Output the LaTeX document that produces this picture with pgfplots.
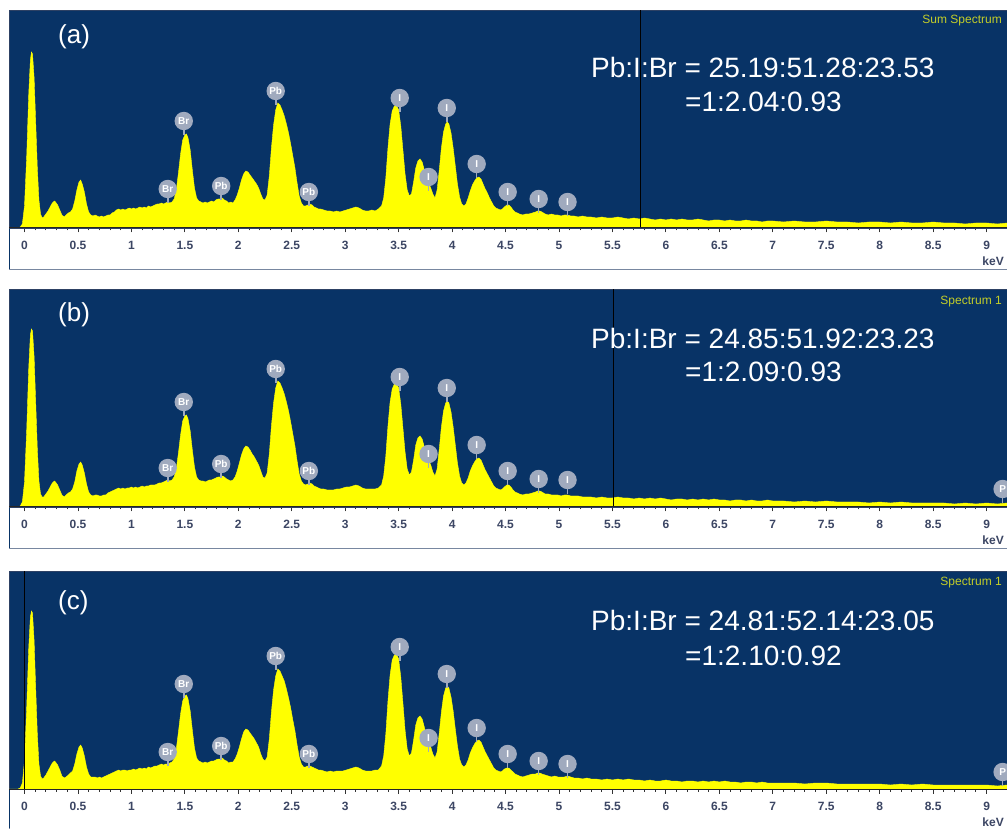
\documentclass[border=0pt]{standalone}
\usepackage{fontspec}
\setmainfont{Liberation Sans}
\usepackage{pgfplots}
\usepackage{pgfplotstable}
\pgfplotsset{compat=1.18}
\definecolor{edsblue}{RGB}{8,51,102}
\definecolor{edsedge}{RGB}{45,65,100}
\definecolor{specyellow}{RGB}{255,255,0}
\definecolor{taggray}{RGB}{160,170,190}
\definecolor{ticklab}{RGB}{60,70,100}
\definecolor{speclab}{RGB}{196,206,40}
\definecolor{stripedge}{RGB}{120,135,160}

\pgfdeclareplotmark{edstag}{%
  \pgfpathmoveto{\pgfpointorigin}%
  \pgfpathlineto{\pgfpoint{0pt}{6pt}}%
  \pgfsetlinewidth{1.6pt}%
  \pgfusepathqstroke
  \pgfpathcircle{\pgfpoint{0pt}{14pt}}{9.2pt}%
  \pgfusepathqfill
}

\pgfplotstableread{
x a b c
-0.145 0 0 0
-0.06 0 0 0
-0.04 1 1 1
-0.02 4 5 6
0.00 22 25 28
0.02 70 75 80
0.04 135 140 142
0.055 168 172 172
0.065 176 178 178
0.075 174 176 176
0.09 150 150 148
0.105 105 104 100
0.12 60 58 55
0.135 28 26 25
0.15 14 13 13
0.165 10 10 10
0.18 11 10 11
0.20 14 13 14
0.22 17 16 18
0.24 21 20 22
0.26 25 24 26
0.28 27 26 28
0.29 26 25 27
0.31 23 22 24
0.33 18 17 19
0.35 13 12 13
0.37 11 10 11
0.39 13 12 12
0.41 15 14 14
0.43 16 15 16
0.45 19 18 18
0.47 27 25 25
0.49 38 36 35
0.51 46 43 42
0.525 48 45 44
0.54 44 42 41
0.56 36 34 33
0.58 24 23 22
0.60 16 15 15
0.62 13 12 12
0.64 12 11 12
0.66 13 12 12
0.68 12 12 11
0.70 11 11 12
0.72 12 11 11
0.74 11 12 12
0.76 12 12 13
0.78 13 14 14
0.80 13 15 15
0.82 15 16 16
0.84 16 17 17
0.86 18 18 18
0.88 19 19 19
0.90 18 18 18
0.92 19 19 19
0.94 18 18 19
0.96 19 19 18
0.98 20 19 19
1.00 19 20 19
1.02 20 19 20
1.04 19 20 19
1.06 20 19 20
1.08 21 20 21
1.10 20 21 20
1.12 21 20 21
1.14 20 21 20
1.16 22 21 22
1.18 21 22 21
1.20 22 22 22
1.22 23 22 23
1.24 24 23 23
1.26 24 24 24
1.28 25 24 25
1.30 24 25 24
1.32 25 26 25
1.34 26 27 25
1.36 25 26 26
1.38 26 27 27
1.40 29 30 30
1.42 38 38 40
1.44 55 54 57
1.46 74 72 75
1.48 88 86 88
1.50 93 91 93
1.515 94 92 94
1.53 90 88 90
1.55 78 76 78
1.57 58 57 59
1.59 40 40 41
1.61 30 30 31
1.63 27 27 28
1.65 26 26 27
1.67 25 26 26
1.69 26 25 27
1.71 25 26 26
1.73 26 27 27
1.75 27 27 28
1.77 26 28 28
1.79 28 29 29
1.81 29 30 30
1.83 29 30 30
1.85 30 31 31
1.87 28 30 29
1.89 27 28 28
1.91 25 27 26
1.93 26 26 27
1.95 25 27 27
1.97 28 30 30
1.99 33 36 35
2.01 40 44 42
2.03 48 52 50
2.05 54 58 57
2.07 57 61 60
2.09 56 60 59
2.11 53 57 56
2.13 50 53 53
2.15 47 50 50
2.17 44 46 46
2.19 40 42 42
2.21 34 36 35
2.23 29 30 30
2.25 28 29 28
2.27 33 34 32
2.29 52 53 50
2.31 80 81 77
2.33 103 104 99
2.35 118 119 113
2.37 125 126 120
2.39 123 124 118
2.41 118 119 113
2.43 112 113 108
2.45 104 105 100
2.47 95 96 91
2.49 84 85 81
2.51 72 73 69
2.53 60 61 58
2.55 45 46 44
2.57 32 33 32
2.59 25 26 25
2.61 22 23 22
2.63 22 22 22
2.65 23 23 23
2.67 24 24 23
2.69 23 23 22
2.71 21 21 21
2.73 20 20 20
2.75 19 19 19
2.77 19 18 19
2.80 18 18 18
2.83 17 17 17
2.86 17 17 18
2.89 16 17 17
2.92 17 18 18
2.95 16 18 18
2.98 17 19 18
3.01 18 20 19
3.04 19 20 20
3.07 20 21 21
3.10 21 22 22
3.13 20 21 21
3.16 18 19 19
3.19 17 18 18
3.22 17 18 18
3.25 18 18 18
3.28 17 18 19
3.31 19 19 19
3.34 22 22 23
3.36 30 31 33
3.38 50 51 55
3.40 80 81 88
3.42 104 105 114
3.44 117 118 129
3.46 122 123 134
3.48 123 124 135
3.50 118 119 130
3.52 102 103 112
3.54 78 79 86
3.56 54 55 59
3.58 38 38 40
3.60 32 32 33
3.62 34 35 36
3.64 46 47 49
3.66 60 62 64
3.68 67 69 71
3.70 69 71 73
3.72 66 68 70
3.74 58 60 62
3.76 50 52 53
3.78 45 47 48
3.80 40 42 42
3.82 34 35 35
3.84 30 31 31
3.86 38 38 37
3.88 58 58 56
3.90 80 80 77
3.92 96 96 93
3.94 104 104 101
3.955 106 106 103
3.97 104 104 101
3.99 95 95 92
4.01 80 80 78
4.03 62 62 60
4.05 44 44 43
4.07 31 31 30
4.09 24 24 24
4.11 22 22 22
4.13 24 24 24
4.15 30 29 29
4.17 37 36 36
4.19 43 41 41
4.21 47 45 45
4.23 50 48 48
4.25 51 49 49
4.27 49 47 47
4.29 44 42 42
4.31 39 37 37
4.33 35 33 33
4.35 30 29 29
4.37 26 25 25
4.39 22 21 21
4.41 20 19 19
4.43 19 18 18
4.45 18 17 17
4.47 19 18 18
4.49 21 20 20
4.51 23 22 21
4.53 23 22 21
4.55 21 20 19
4.57 18 17 17
4.59 16 15 15
4.61 15 14 14
4.63 14 13 13
4.66 13 12 12
4.69 14 13 13
4.72 14 13 14
4.75 15 14 15
4.78 16 15 15
4.80 17 16 16
4.82 17 16 16
4.84 16 15 15
4.87 14 13 14
4.90 13 13 13
4.93 14 12 12
4.96 13 12 13
4.99 13 12 12
5.02 12 11 12
5.05 13 12 12
5.08 13 12 13
5.11 12 11 12
5.14 12 11 11
5.18 11 11 11
5.22 12 10 10
5.26 11 10 11
5.30 11 10 10
5.35 10 9 10
5.40 11 10 9
5.45 10 9 10
5.50 10 9 9
5.55 11 10 10
5.60 10 9 9
5.65 9 9 10
5.70 10 8 9
5.75 9 9 9
5.80 10 8 8
5.85 9 9 9
5.90 8 8 8
5.95 9 9 8
6.00 8 8 9
6.05 9 7 8
6.10 8 8 8
6.15 9 8 7
6.20 8 7 8
6.25 8 8 8
6.30 9 7 7
6.35 8 8 8
6.40 7 7 7
6.45 8 8 8
6.50 8 7 7
6.55 7 7 8
6.60 8 6 7
6.65 7 7 7
6.70 7 7 6
6.75 8 6 7
6.80 7 7 7
6.85 7 6 6
6.90 6 6 7
6.95 7 7 6
7.00 7 6 6
7.10 6 6 6
7.20 7 5 6
7.30 6 6 5
7.40 6 5 6
7.50 7 6 6
7.60 6 5 5
7.70 6 5 5
7.80 5 5 5
7.90 6 4 5
8.00 6 5 5
8.10 5 4 4
8.20 6 5 5
8.30 5 4 4
8.40 5 4 5
8.50 6 4 4
8.60 5 4 4
8.70 5 3 4
8.80 4 4 4
8.90 5 3 4
9.00 5 4 4
9.10 4 3 3
9.191 5 4 4
}\spec

\pgfplotstableread{
x y lab
1.34 25 Br
1.49 93 Br
1.84 28 Pb
2.35 123 Pb
2.66 22 Pb
3.51 116 I
3.78 37 I
3.95 106 I
4.23 50 I
4.52 22 I
4.81 15 I
5.08 12 I
}\tagA

\pgfplotstableread{
x y lab
1.34 25 Br
1.49 91 Br
1.84 29 Pb
2.35 124 Pb
2.66 22 Pb
3.51 116 I
3.78 39 I
3.95 105 I
4.23 48 I
4.52 22 I
4.81 14 I
5.08 13 I
9.15 4 P
}\tagB

\pgfplotstableread{
x y lab
1.34 23 Br
1.49 91 Br
1.84 29 Pb
2.35 119 Pb
2.66 21 Pb
3.51 128 I
3.78 37 I
3.95 101 I
4.23 47 I
4.52 21 I
4.81 14 I
5.08 11 I
9.15 3 P
}\tagC

\pgfplotsset{
  edsaxis/.style={
    scale only axis, width=998pt, height=218pt,
    anchor=south west,
    xmin=-0.145, xmax=9.191, ymin=0, ymax=218,
    axis background/.style={fill=edsblue},
    axis line style={draw=edsedge, line width=0.6pt},
    ytick=\empty,
    xtick={0,0.5,...,9},
    xticklabels={0,0.5,1,1.5,2,2.5,3,3.5,4,4.5,5,5.5,6,6.5,7,7.5,8,8.5,9},
    minor x tick num=4,
    tick align=outside, xtick pos=left,
    major tick length=4.5pt, minor tick length=2.5pt,
    tick style={black!80, line width=0.9pt},
    xticklabel style={font=\bfseries\fontsize{12}{12}\selectfont, text=ticklab, anchor=base, yshift=-17pt},
    clip=true,
  },
  tagstyle/.style={
    only marks, mark=edstag, color=taggray,
    mark options={fill=taggray, draw=taggray},
    point meta=explicit symbolic, nodes near coords,
    every node near coord/.append style={anchor=center, yshift=14pt, text=white,
      font=\bfseries\fontsize{10}{10}\selectfont, inner sep=0pt},
  },
  specstyle/.style={fill=specyellow, draw=specyellow, line width=0.4pt},
}

\begin{document}
\begin{tikzpicture}
\path[use as bounding box] (0pt,0pt) rectangle (1007pt,828pt);
\clip (0pt,0pt) rectangle (1007pt,828pt);
\fill[white] (0pt,0pt) rectangle (1007pt,828pt);
% white strips
\draw[stripedge, fill=white, line width=0.8pt] (9pt,559pt) rectangle (1012pt,600pt);
\draw[stripedge, fill=white, line width=0.8pt] (9pt,280pt) rectangle (1012pt,321pt);
\draw[stripedge, fill=white, line width=0.8pt] (9pt,-5pt) rectangle (1012pt,39pt);
\draw[edsblue, line width=1pt] (9.5pt,559pt) -- (9.5pt,600pt);
\draw[edsblue, line width=1pt] (9.5pt,280pt) -- (9.5pt,321pt);
\draw[edsblue, line width=1pt] (9.5pt,0pt) -- (9.5pt,39pt);

% ---------- (a)
\begin{axis}[edsaxis, at={(9pt,600pt)}]
\addplot[specstyle] table[x=x, y=a] {\spec} \closedcycle;
\addplot[black, line width=1pt] coordinates {(5.76,0) (5.76,218)};
\addplot[tagstyle] table[x=x, y=y, meta=lab] {\tagA};
\end{axis}
% ---------- (b)
\begin{axis}[edsaxis, at={(9pt,321pt)}]
\addplot[specstyle] table[x=x, y=b] {\spec} \closedcycle;
\addplot[black, line width=1pt] coordinates {(5.51,0) (5.51,218)};
\addplot[tagstyle] table[x=x, y=y, meta=lab] {\tagB};
\end{axis}
% ---------- (c)
\begin{axis}[edsaxis, at={(9pt,39pt)}]
\addplot[specstyle] table[x=x, y=c] {\spec} \closedcycle;
\addplot[black, line width=1pt] coordinates {(0.0,0) (0.0,218)};
\addplot[tagstyle] table[x=x, y=y, meta=lab] {\tagC};
\end{axis}

% axis base lines
\draw[black!85, line width=1pt] (9pt,600pt) -- (1007pt,600pt);
\draw[black!85, line width=1pt] (9pt,321pt) -- (1007pt,321pt);
\draw[black!85, line width=1pt] (9pt,39pt) -- (1007pt,39pt);

% keV labels
\node[anchor=base east, inner sep=0pt, text=ticklab, font=\bfseries\fontsize{12}{12}\selectfont] at (1004pt,562pt) {keV};
\node[anchor=base east, inner sep=0pt, text=ticklab, font=\bfseries\fontsize{12}{12}\selectfont] at (1004pt,283pt) {keV};
\node[anchor=base east, inner sep=0pt, text=ticklab, font=\bfseries\fontsize{12}{12}\selectfont] at (1004pt,2pt) {keV};

% panel letters
\node[anchor=base west, inner sep=0pt, text=white, font=\fontsize{26}{26}\selectfont] at (58pt,784pt) {(a)};
\node[anchor=base west, inner sep=0pt, text=white, font=\fontsize{26}{26}\selectfont] at (58pt,506pt) {(b)};
\node[anchor=base west, inner sep=0pt, text=white, font=\fontsize{26}{26}\selectfont] at (58pt,218pt) {(c)};

% spectrum names
\node[anchor=base east, inner sep=0pt, text=speclab, font=\fontsize{12}{12}\selectfont] at (1002pt,804pt) {Sum Spectrum};
\node[anchor=base east, inner sep=0pt, text=speclab, font=\fontsize{12}{12}\selectfont] at (1002pt,523pt) {Spectrum 1};
\node[anchor=base east, inner sep=0pt, text=speclab, font=\fontsize{12}{12}\selectfont] at (1002pt,242pt) {Spectrum 1};

% ratios
\node[anchor=base west, inner sep=0pt, text=white, font=\fontsize{28}{28}\selectfont] at (591pt,750pt) {Pb:I:Br = 25.19:51.28:23.53};
\node[anchor=base west, inner sep=0pt, text=white, font=\fontsize{28}{28}\selectfont] at (685pt,716pt) {=1:2.04:0.93};
\node[anchor=base west, inner sep=0pt, text=white, font=\fontsize{28}{28}\selectfont] at (591pt,479pt) {Pb:I:Br = 24.85:51.92:23.23};
\node[anchor=base west, inner sep=0pt, text=white, font=\fontsize{28}{28}\selectfont] at (685pt,446pt) {=1:2.09:0.93};
\node[anchor=base west, inner sep=0pt, text=white, font=\fontsize{28}{28}\selectfont] at (591pt,197pt) {Pb:I:Br = 24.81:52.14:23.05};
\node[anchor=base west, inner sep=0pt, text=white, font=\fontsize{28}{28}\selectfont] at (685pt,163pt) {=1:2.10:0.92};
\end{tikzpicture}
\end{document}
